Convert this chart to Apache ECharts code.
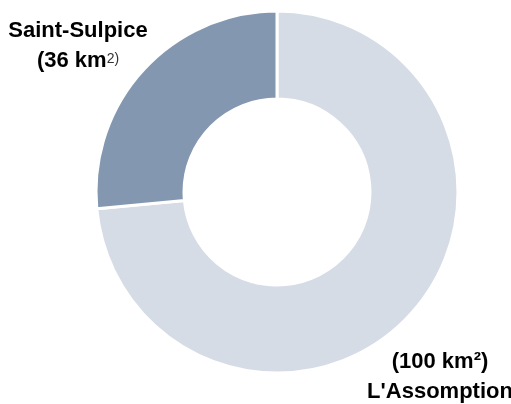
<!DOCTYPE html>
<html><head><meta charset="utf-8">
<script src="https://cdn.jsdelivr.net/npm/echarts@6/dist/echarts.min.js"></script>
<style>html,body{margin:0;padding:0;background:#fff}#c{width:511px;height:404px}</style>
</head><body><div id="c"></div>
<script>
var categories = ["L'Assomption", "Saint-Sulpice"];
var areas = [100, 36];
var colors = ['#d6dce6', '#8497b0'];

var chart = echarts.init(document.getElementById('c'));
var FONT = '"Liberation Sans", Arial, sans-serif';
var labelPos = [[440, 377], [78, 46]];
chart.setOption({
  animation: false,
  series: [{
    type: 'pie',
    center: [277, 192],
    radius: [93, 181],
    startAngle: 90,
    clockwise: true,
    itemStyle: { borderColor: '#fff', borderWidth: 3 },
    labelLine: { show: false },
    label: {
      show: true,
      position: 'outside',
      overflow: 'none',
      width: 200,
      align: 'center',
      color: '#000',
      fontFamily: FONT,
      fontWeight: 'bold',
      fontSize: 22,
      lineHeight: 30,
      formatter: function (p) {
        if (p.dataIndex === 0) return '{b|(' + p.value + ' km²)}\n{b|' + p.name + '}';
        return '{b|' + p.name + '}\n{b|(' + p.value + ' km}{s|2)}';
      },
      rich: {
        b: { fontFamily: FONT, fontWeight: 'bold', fontSize: 22, lineHeight: 30, color: '#000' },
        s: { fontFamily: FONT, fontWeight: 'normal', fontSize: 14, lineHeight: 30, color: '#333', padding: [0, 0, 4, 0] }
      }
    },
    labelLayout: function (params) {
      var p = labelPos[params.dataIndex];
      return { x: p[0], y: p[1], align: 'center', verticalAlign: 'middle' };
    },
    data: categories.map(function (n, i) {
      return { name: n, value: areas[i], itemStyle: { color: colors[i] } };
    })
  }]
});
</script></body></html>
